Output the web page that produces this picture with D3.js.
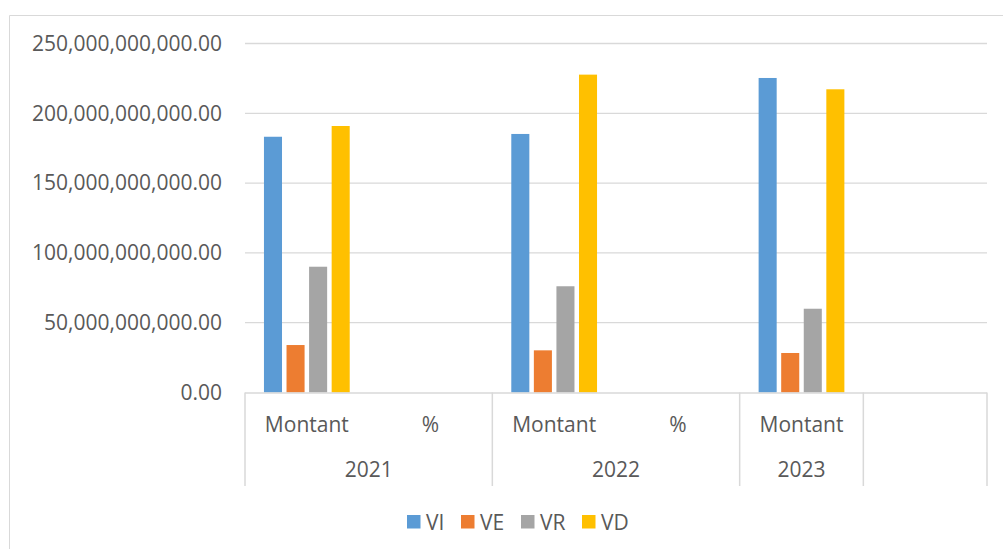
<!DOCTYPE html>
<html>
<head>
<meta charset="utf-8">
<script src="https://cdn.jsdelivr.net/npm/d3@7/dist/d3.min.js"></script>
<style>
  html, body { margin: 0; padding: 0; background: #fff; }
  svg { display: block; }
  text { font-family: "Open Sans", "Noto Sans", sans-serif; fill: #595959; }
</style>
</head>
<body>
<svg id="chart" width="1003" height="549"></svg>
<script>
// ---- Data ----
const categories = ["Montant", "%", "Montant", "%", "Montant", ""];
const years = ["2021", "2021", "2022", "2022", "2023", ""];
const seriesNames = ["VI", "VE", "VR", "VD"];
const VI = [183.2e9, null, 185.2e9, null, 225.3e9, null];
const VE = [34.0e9, null, 30.2e9, null, 28.3e9, null];
const VR = [90.1e9, null, 76.1e9, null, 60.0e9, null];
const VD = [190.9e9, null, 227.7e9, null, 217.2e9, null];
const yTicks = [0, 50e9, 100e9, 150e9, 200e9, 250e9];
const colors = ["#5B9BD5", "#ED7D31", "#A5A5A5", "#FFC000"];

const seriesValues = [VI, VE, VR, VD];

// ---- Layout ----
const svg = d3.select("#chart");
const plot = { left: 245, right: 987, top: 43.5, bottom: 392.5 };
const grid = "#d9d9d9";

// outer border
svg.append("path")
  .attr("d", "M9.5,549 L9.5,15.5 L1003,15.5")
  .attr("fill", "none").attr("stroke", grid).attr("stroke-width", 1);

const idx = categories.map((d, i) => i);
const x0 = d3.scaleBand().domain(idx).range([plot.left, plot.right]).paddingInner(0).paddingOuter(0);
const x1 = d3.scaleBand().domain(seriesNames).range([0, x0.bandwidth()]).paddingInner(0.2).paddingOuter(0.84);
const y = d3.scaleLinear().domain([0, 250e9]).range([plot.bottom, plot.top]);

// gridlines
svg.append("g").selectAll("line").data(yTicks.filter(t => t > 0)).join("line")
  .attr("x1", plot.left).attr("x2", plot.right)
  .attr("y1", d => y(d)).attr("y2", d => y(d))
  .attr("stroke", grid).attr("stroke-width", 1.3);

// y axis labels
const yAxis = d3.axisLeft(y).tickValues(yTicks).tickFormat(d3.format(",.2f")).tickSize(0).tickPadding(0);
const yg = svg.append("g").attr("transform", `translate(222,0)`).call(yAxis);
yg.select(".domain").remove();
yg.selectAll("text").style("font-size", "21px").attr("fill", "#595959")
  .style("font-family", "'Open Sans', sans-serif");

// bars
const barData = [];
seriesValues.forEach((vals, s) => {
  vals.forEach((v, i) => {
    if (v != null) barData.push({ s: seriesNames[s], c: colors[s], i, v });
  });
});
svg.append("g").selectAll("rect").data(barData).join("rect")
  .attr("x", d => x0(d.i) + x1(d.s))
  .attr("width", x1.bandwidth())
  .attr("y", d => y(d.v))
  .attr("height", d => y(0) - y(d.v))
  .attr("fill", d => d.c);

// x baseline
svg.append("line")
  .attr("x1", plot.left).attr("x2", plot.right)
  .attr("y1", plot.bottom + 0.5).attr("y2", plot.bottom + 0.5)
  .attr("stroke", grid).attr("stroke-width", 1.5);

// group separators (multi-level axis)
const groups = [];
years.forEach((yv, i) => {
  if (i === 0 || yv !== years[i - 1] || yv === "") groups.push({ label: yv, start: i, end: i });
  else groups[groups.length - 1].end = i;
});
const bounds = [plot.left].concat(groups.map(g => x0(g.end) + x0.bandwidth()));
svg.append("g").selectAll("line").data(bounds).join("line")
  .attr("x1", d => d).attr("x2", d => d)
  .attr("y1", plot.bottom).attr("y2", 486)
  .attr("stroke", grid).attr("stroke-width", 1.5);

// level-1 labels
svg.append("g").selectAll("text").data(categories.map((c, i) => ({ c, i }))).join("text")
  .attr("x", d => x0(d.i) + x0.bandwidth() / 2)
  .attr("y", 424)
  .attr("text-anchor", "middle").attr("dominant-baseline", "central")
  .style("font-size", "21px")
  .text(d => d.c);

// level-2 labels (years)
svg.append("g").selectAll("text").data(groups).join("text")
  .attr("x", d => (x0(d.start) + x0(d.end) + x0.bandwidth()) / 2)
  .attr("y", 469)
  .attr("text-anchor", "middle").attr("dominant-baseline", "central")
  .style("font-size", "21px")
  .text(d => d.label);

// legend
const legendX = [407, 461, 521, 582];
const lg = svg.append("g");
seriesNames.forEach((n, s) => {
  lg.append("rect").attr("x", legendX[s]).attr("y", 515).attr("width", 13.5).attr("height", 13.5).attr("fill", colors[s]);
  lg.append("text").attr("x", legendX[s] + 19).attr("y", 522)
    .attr("dominant-baseline", "central").style("font-size", "21px").text(n);
});
</script>
</body>
</html>
